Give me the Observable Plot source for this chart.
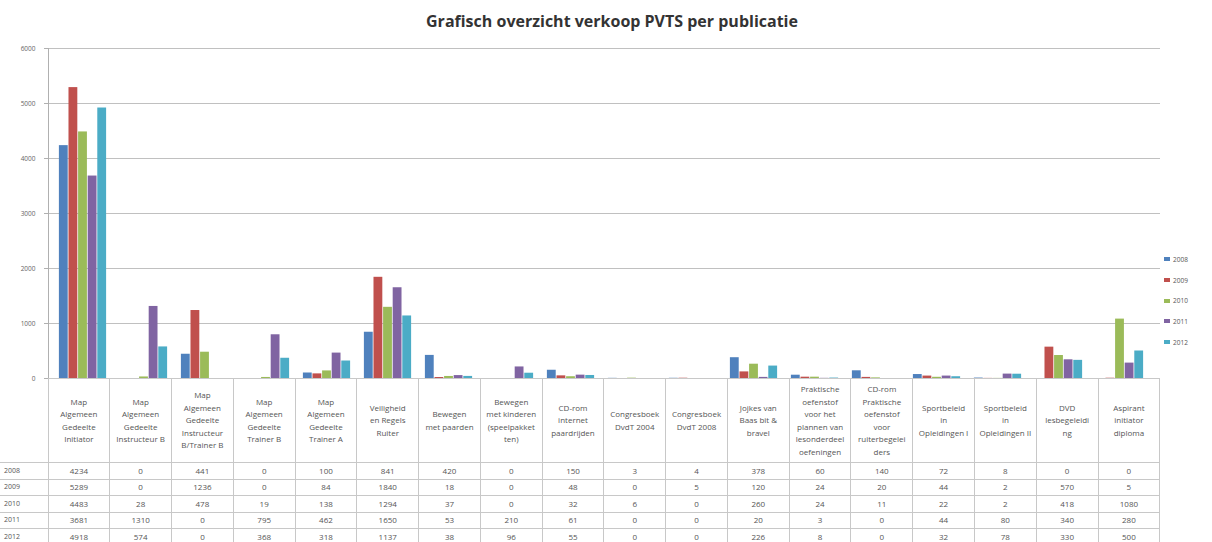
<!DOCTYPE html>
<html>
<head>
<meta charset="utf-8">
<script src="https://cdn.jsdelivr.net/npm/d3@7"></script>
<script src="https://cdn.jsdelivr.net/npm/@observablehq/plot@0.6"></script>
<style>
  html, body { margin: 0; padding: 0; background: #fff; }
  body { width: 1212px; height: 542px; position: relative; overflow: hidden; font-family: "Open Sans", sans-serif; }
  #title { position: absolute; top: 10px; left: 0; width: 1224px; text-align: center; font-weight: bold; font-size: 16px; color: #333; }
  #chart { position: absolute; top: 40px; left: 0; }
  #legend { position: absolute; left: 1164px; top: 249px; font-size: 6.5px; color: #555; }
  #legend div { height: 20.7px; display: flex; align-items: center; }
  #legend span.sw { display: inline-block; width: 6px; height: 4px; margin-right: 3px; }
  #tbl { position: absolute; top: 378px; left: 0; border-collapse: collapse; table-layout: fixed; font-size: 8px; color: #555; }
  #tbl td, #tbl th { border: 1px solid #c8c8c8; text-align: center; padding: 0; font-weight: normal; overflow: hidden; }
  #tbl th.corner { border: none; border-right: 1px solid #c8c8c8; }
  #tbl th.cat { height: 83px; white-space: pre-line; line-height: 12.5px; vertical-align: middle; }
  #tbl td { height: 15.5px; line-height: 12px; }
  #tbl td.yr { text-align: left; padding-left: 4px; font-size: 7px; border-left: none; }
</style>
</head>
<body>
<div id="title">Grafisch overzicht verkoop PVTS per publicatie</div>
<div id="chart"></div>
<div id="legend"></div>
<table id="tbl"></table>
<script>
const categories = [
  "Map\nAlgemeen\nGedeelte\nInitiator",
  "Map\nAlgemeen\nGedeelte\nInstructeur B",
  "Map\nAlgemeen\nGedeelte\nInstructeur\nB/Trainer B",
  "Map\nAlgemeen\nGedeelte\nTrainer B",
  "Map\nAlgemeen\nGedeelte\nTrainer A",
  "Veiligheid\nen Regels\nRuiter",
  "Bewegen\nmet paarden",
  "Bewegen\nmet kinderen\n(speelpakket\nten)",
  "CD-rom\ninternet\npaardrijden",
  "Congresboek\nDvdT 2004",
  "Congresboek\nDvdT 2008",
  "Jojkes van\nBaas bit &\nbravel",
  "Praktische\noefenstof\nvoor het\nplannen van\nlesonderdeel\noefeningen",
  "CD-rom\nPraktische\noefenstof\nvoor\nruiterbegelei\nders",
  "Sportbeleid\nin\nOpleidingen I",
  "Sportbeleid\nin\nOpleidingen II",
  "DVD\nlesbegeleidi\nng",
  "Aspirant\ninitiator\ndiploma"
];
const years = ["2008", "2009", "2010", "2011", "2012"];
const colors = ["#4F81BD", "#C0504D", "#9BBB59", "#8064A2", "#4BACC6"];

const v2008 = [4234, 0, 441, 0, 100, 841, 420, 0, 150, 3, 4, 378, 60, 140, 72, 8, 0, 0];
const v2009 = [5289, 0, 1236, 0, 84, 1840, 18, 0, 48, 0, 5, 120, 24, 20, 44, 2, 570, 5];
const v2010 = [4483, 28, 478, 19, 138, 1294, 37, 0, 32, 6, 0, 260, 24, 11, 22, 2, 418, 1080];
const v2011 = [3681, 1310, 0, 795, 462, 1650, 53, 210, 61, 0, 0, 20, 3, 0, 44, 80, 340, 280];
const v2012 = [4918, 574, 0, 368, 318, 1137, 38, 96, 55, 0, 0, 226, 8, 0, 32, 78, 330, 500];
const yTicks = [0, 1000, 2000, 3000, 4000, 5000, 6000];

const series = [v2008, v2009, v2010, v2011, v2012];
const rows = [];
years.forEach((yr, i) => categories.forEach((c, j) => rows.push({cat: c, year: yr, value: series[i][j]})));

const W = 1212, mL = 48, mR = 52;
const bw = (W - mL - mR) / categories.length;
const barW = 9.6;
const inset = (bw - barW) / 2;

const marks = [
  Plot.ruleY(yTicks.slice(1), {stroke: "#c0c0c0", strokeWidth: 1}),
  Plot.frame({anchor: "left", stroke: "#b0b0b0"}),
  Plot.axisY({ticks: yTicks, tickSize: 4, tickPadding: 9, fontSize: 6.5, fill: "#666", stroke: "#b0b0b0", label: null, tickFormat: d => String(d)})
];
years.forEach((yr, i) => {
  marks.push(Plot.barY(rows.filter(r => r.year === yr), {
    x: "cat", y: "value", fill: "year",
    dx: (i - 2) * barW - 3, insetLeft: inset, insetRight: inset
  }));
});

const chart = Plot.plot({
  width: W, height: 344,
  marginLeft: mL, marginRight: mR, marginTop: 8, marginBottom: 6,
  x: {type: "band", domain: categories, padding: 0, axis: null},
  y: {domain: [0, 6000], axis: null},
  color: {type: "ordinal", domain: years, range: colors},
  style: {fontFamily: "Open Sans, sans-serif", background: "transparent"},
  marks
});
document.getElementById("chart").appendChild(chart);

// legend
const lg = document.getElementById("legend");
years.forEach((yr, i) => {
  const d = document.createElement("div");
  d.innerHTML = `<span class="sw" style="background:${colors[i]}"></span>${yr}`;
  lg.appendChild(d);
});

// data table
const tbl = document.getElementById("tbl");
const cg = document.createElement("colgroup");
const c0 = document.createElement("col"); c0.style.width = mL + "px"; cg.appendChild(c0);
categories.forEach(() => { const c = document.createElement("col"); c.style.width = bw + "px"; cg.appendChild(c); });
tbl.appendChild(cg);
tbl.style.width = (mL + bw * categories.length) + "px";
const hr = document.createElement("tr");
const corner = document.createElement("th"); corner.className = "corner"; hr.appendChild(corner);
categories.forEach(c => { const th = document.createElement("th"); th.className = "cat"; th.textContent = c; hr.appendChild(th); });
tbl.appendChild(hr);
years.forEach((yr, i) => {
  const tr = document.createElement("tr");
  const td0 = document.createElement("td"); td0.className = "yr"; td0.textContent = yr; tr.appendChild(td0);
  series[i].forEach(v => { const td = document.createElement("td"); td.textContent = v; tr.appendChild(td); });
  tbl.appendChild(tr);
});
</script>
</body>
</html>
